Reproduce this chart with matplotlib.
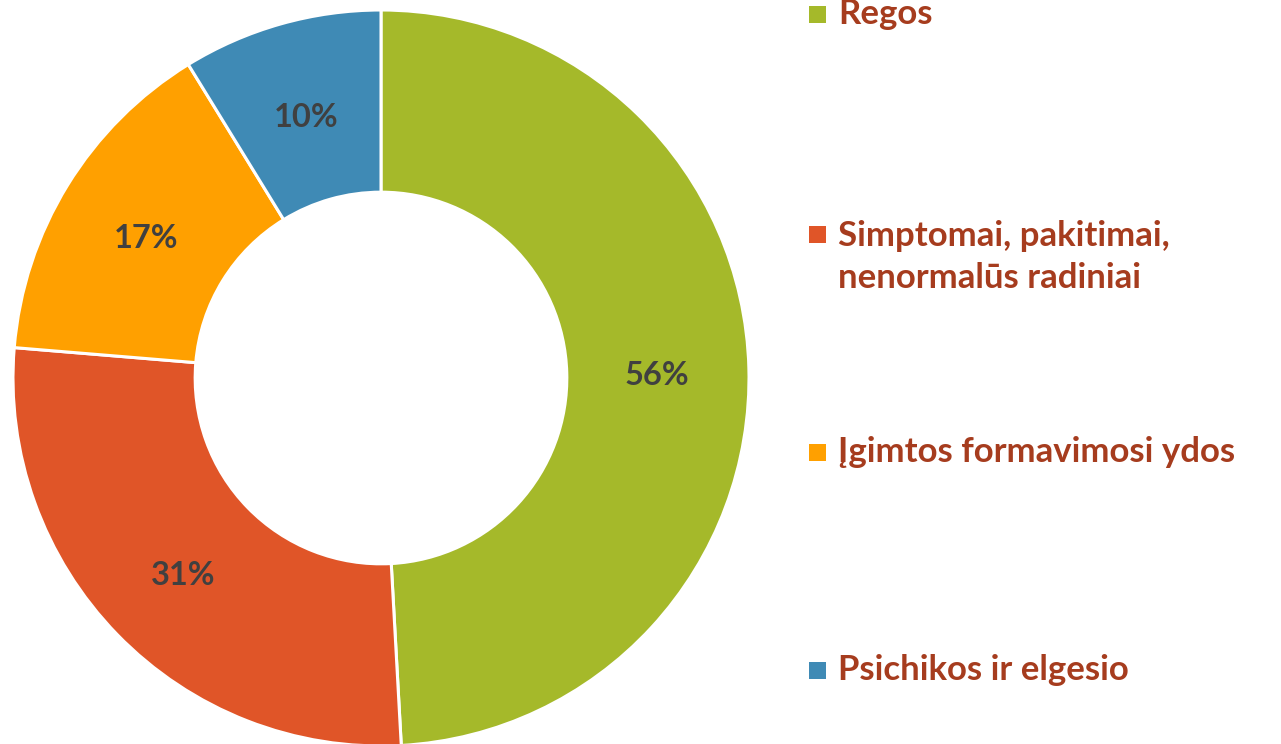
import matplotlib
matplotlib.use("Agg")
import matplotlib.pyplot as plt
from matplotlib.patches import Rectangle
import numpy as np

categories = ["Regos", "Simptomai, pakitimai,\nnenormalūs radiniai",
              "Įgimtos formavimosi ydos", "Psichikos ir elgesio"]
values = [56, 31, 17, 10]
value_labels = ["56%", "31%", "17%", "10%"]
colors = ["#A5B92A", "#E05528", "#FFA000", "#3F8AB5"]

W, H = 1281, 744
fig = plt.figure(figsize=(W / 100, H / 100), dpi=100)
cx, cy, R = 381, 378, 368
ax = fig.add_axes([(cx - R) / W, (H - cy - R) / H, 2 * R / W, 2 * R / H])
wedges, _ = ax.pie(values, colors=colors, startangle=90, counterclock=False,
                   radius=1.0, wedgeprops=dict(width=0.495, edgecolor="white", linewidth=2.2))
ax.set_xlim(-1, 1)
ax.set_ylim(-1, 1)
ax.set_aspect("equal")
ax.axis("off")

for w, lab in zip(wedges, value_labels):
    ang = np.deg2rad((w.theta1 + w.theta2) / 2)
    r = 0.75
    ax.text(r * np.cos(ang), r * np.sin(ang) - 0.015, lab, ha="center", va="center",
            fontsize=23.5, fontweight="bold", color="#404040", family="Lato")

legend_y = [14, 257, 452, 670]
line_gap = 45
text_color = "#A63C1E"
for lab, col, y in zip(categories, colors, legend_y):
    nlines = lab.count("\n") + 1
    first_line_y = y - (nlines - 1) * line_gap / 2
    fig.patches.append(Rectangle((809 / W, (H - first_line_y - 8.5) / H), 17 / W, 17 / H,
                                 transform=fig.transFigure, facecolor=col, edgecolor="none"))
    fig.text(838 / W, (H - y) / H, lab, ha="left", va="center", fontsize=25,
             fontweight="bold", color=text_color, family="Lato", linespacing=1.42)

fig.savefig("out.png", dpi=100)
